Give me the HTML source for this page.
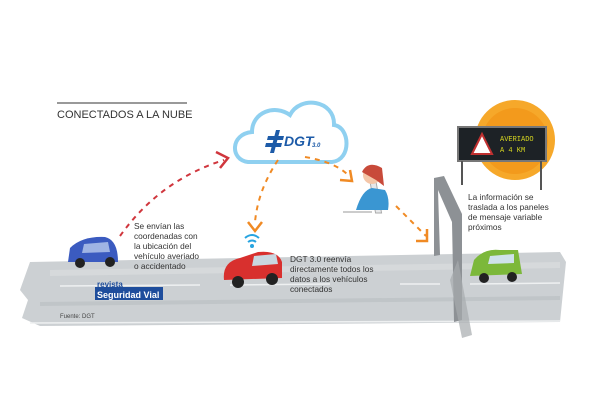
<!DOCTYPE html>
<html><head><meta charset="utf-8"><style>
html,body{margin:0;padding:0;background:#fff;}
svg{display:block;font-family:"Liberation Sans",sans-serif;}
</style></head><body>
<svg width="600" height="400" viewBox="0 0 600 400" xmlns="http://www.w3.org/2000/svg">
<!-- road -->
<path d="M30 262 L560 252 L566 262 L560 322 L40 326 L22 318 L28 300 L20 290 Z" fill="#ccd0d3"/>
<path d="M50 270 L560 262 L560 268 L50 276 Z" fill="#d6d9db"/>
<path d="M40 302 L560 296 L560 300 L40 306 Z" fill="#c0c5c8"/>
<g stroke="#eef0f1" stroke-width="1.5">
<line x1="60" y1="286" x2="200" y2="285"/><line x1="230" y1="285" x2="330" y2="284"/><line x1="400" y1="284" x2="440" y2="284"/><line x1="470" y1="284" x2="560" y2="283"/>
<line x1="30" y1="323" x2="560" y2="321"/>
</g>
<!-- title -->
<line x1="57" y1="103" x2="187" y2="103" stroke="#333" stroke-width="1"/>
<text x="57" y="118" font-size="11" fill="#333">CONECTADOS A LA NUBE</text>
<!-- cloud -->
<path d="M248 162 C230 160 230 134 252 132 C252 112 275 104 290 115 C300 95 335 100 334 125 C350 127 352 160 332 162 Z" fill="#fff" stroke="#8fd0f0" stroke-width="4"/>
<g fill="#1d5ba8">
<polygon points="268,136 284,136 283,140 267,140"/>
<polygon points="266,143 282,143 281,147 265,147"/>
<polygon points="276,130 280,130 274,153 270,153"/>
</g>
<text x="284" y="146" font-size="14" font-style="italic" font-weight="bold" fill="#1d5ba8">DGT</text><text x="312" y="147" font-size="6" font-style="italic" font-weight="bold" fill="#1d5ba8">3.0</text>
<!-- red arc -->
<path d="M120 236 Q160 180 224 160" fill="none" stroke="#d0363d" stroke-width="2" stroke-dasharray="5 5"/>
<path d="M216 152 L228 158 L220 168" fill="none" stroke="#d0363d" stroke-width="2.5"/>
<!-- orange arcs -->
<g fill="none" stroke="#f08a24" stroke-width="2" stroke-dasharray="5 5">
<path d="M278 160 Q258 190 255 222"/>
<path d="M305 157 Q335 162 348 175"/>
<path d="M396 206 Q412 222 426 236"/>
</g>
<g fill="none" stroke="#f08a24" stroke-width="2.5">
<path d="M248 222 L255 231 L262 222"/>
<path d="M340 180 L352 181 L350 170"/>
<path d="M416 241 L427 241 L427 229"/>
</g>
<!-- operator -->
<rect x="338" y="179" width="6" height="34" fill="#e6e8ea" stroke="#aaa" transform="skewX(10)"/>
<path d="M356 210 Q362 190 372 188 L385 190 Q390 198 388 210 Z" fill="#3a96d2"/>
<circle cx="372" cy="175" r="9" fill="#f4c6a8"/>
<path d="M362 172 Q368 160 382 168 L384 186 L376 180 Z" fill="#c84a3a"/>
<line x1="343" y1="212" x2="372" y2="212" stroke="#999"/>
<!-- text -->
<g font-size="8.3" fill="#333">
<text x="134" y="229">Se envían las</text><text x="134" y="239">coordenadas con</text><text x="134" y="249">la ubicación del</text><text x="134" y="259">vehículo averiado</text><text x="134" y="269">o accidentado</text>
<text x="290" y="262">DGT 3.0 reenvía</text><text x="290" y="272">directamente todos los</text><text x="290" y="282">datos a los vehículos</text><text x="290" y="292">conectados</text>
<text x="468" y="200">La información se</text><text x="468" y="210">traslada a los paneles</text><text x="468" y="220">de mensaje variable</text><text x="468" y="230">próximos</text>
</g>
<!-- blue car -->
<path d="M68 262 L70 248 Q82 236 105 237 Q118 240 118 262 Z" fill="#3b5bc0"/>
<path d="M84 244 L108 242 L110 252 L82 253 Z" fill="#9fb4e4"/>
<circle cx="80" cy="263" r="5" fill="#222"/><circle cx="110" cy="262" r="5" fill="#222"/>
<!-- wifi -->
<g fill="none" stroke="#27a4e0" stroke-width="2"><path d="M245 238 Q252 232 259 238"/><path d="M248 242 Q252 239 256 242"/></g><circle cx="252" cy="246" r="2" fill="#27a4e0"/>
<!-- red car -->
<path d="M224 280 Q222 262 240 258 L258 252 Q278 250 282 262 L282 278 Z" fill="#d8302e"/>
<path d="M254 256 L276 254 L278 264 L252 266 Z" fill="#c9d7e0"/>
<circle cx="238" cy="282" r="6" fill="#222"/><circle cx="272" cy="279" r="6" fill="#222"/>
<!-- green car -->
<path d="M470 276 L474 260 Q484 248 500 250 L518 250 L522 274 Z" fill="#7cb83a"/>
<path d="M490 256 L514 254 L514 263 L488 264 Z" fill="#cfe2ea"/>
<circle cx="484" cy="278" r="5" fill="#222"/><circle cx="512" cy="277" r="5" fill="#222"/>
<!-- gantry -->
<path d="M434 178 L444 176 L462 214 L462 320 L454 322 L452 222 L438 190 L440 255 L434 256 Z" fill="#8d9195"/>
<path d="M458 260 L472 335 L462 338 L450 280 Z" fill="#a7abae" opacity="0.7"/>
<!-- orange circle & sign -->
<circle cx="515" cy="140" r="40" fill="#f6a82a"/>
<circle cx="515" cy="141" r="33" fill="#f39a1c"/>
<rect x="458" y="127" width="88" height="34" fill="#1d2226" stroke="#777" stroke-width="2"/>
<line x1="462" y1="161" x2="462" y2="185" stroke="#555" stroke-width="2"/><line x1="541" y1="161" x2="541" y2="190" stroke="#555" stroke-width="2"/>
<path d="M472 154 L482 134 L492 154 Z" fill="#fff" stroke="#c03030" stroke-width="2"/>
<text x="500" y="141" font-size="7" fill="#d8d820" font-family="Liberation Mono,monospace">AVERIADO</text>
<text x="500" y="152" font-size="7" fill="#d8d820" font-family="Liberation Mono,monospace">A  4 KM</text>
<!-- logo -->
<rect x="95" y="287" width="68" height="13" fill="#1e4d9c"/>
<text x="97" y="287" font-size="8" font-weight="bold" fill="#1e4d9c">revista</text>
<text x="97" y="298" font-size="9" font-weight="bold" fill="#fff">Seguridad Vial</text>
<text x="60" y="318" font-size="6" fill="#444">Fuente: DGT</text>
</svg>
</body></html>
